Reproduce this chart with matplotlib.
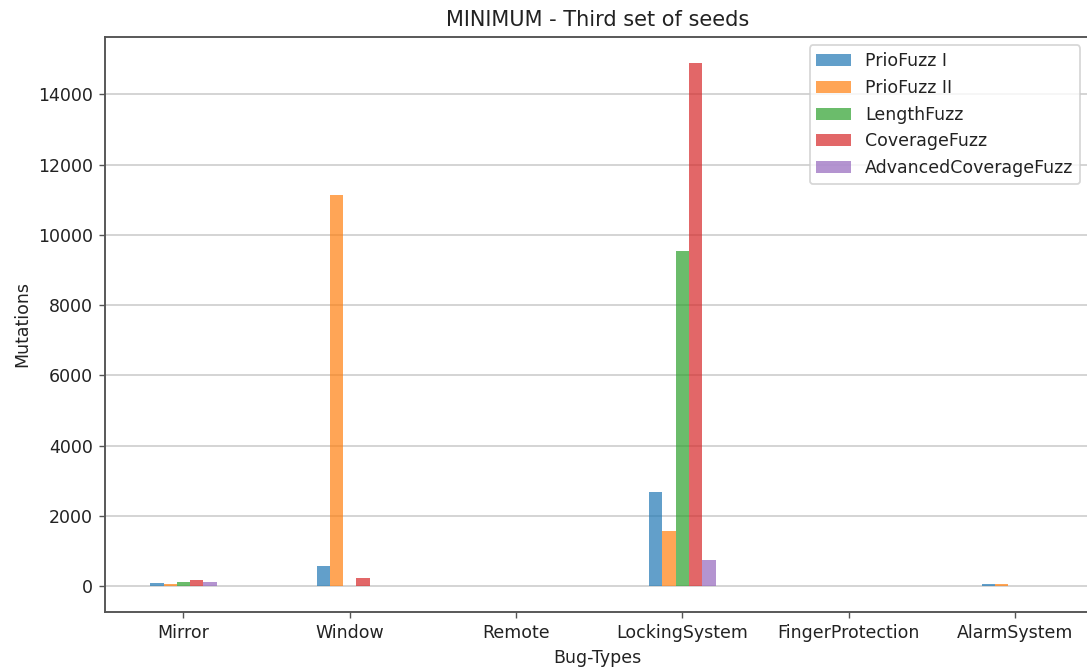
import matplotlib
matplotlib.use("Agg")
import matplotlib.pyplot as plt
import numpy as np

categories = ["Mirror", "Window", "Remote", "LockingSystem", "FingerProtection", "AlarmSystem"]
series_names = ["PrioFuzz I", "PrioFuzz II", "LengthFuzz", "CoverageFuzz", "AdvancedCoverageFuzz"]
prio_fuzz_1 = [75, 575, 0, 2670, 0, 65]
prio_fuzz_2 = [65, 11150, 0, 1580, 0, 60]
length_fuzz = [120, 0, 0, 9550, 0, 0]
coverage_fuzz = [170, 220, 0, 14900, 0, 0]
adv_coverage_fuzz = [115, 0, 0, 730, 0, 0]
series_values = [prio_fuzz_1, prio_fuzz_2, length_fuzz, coverage_fuzz, adv_coverage_fuzz]

colors = ["#1f77b4", "#ff7f0e", "#2ca02c", "#d62728", "#9467bd"]

plt.rcParams["text.color"] = "#222222"
plt.rcParams["axes.labelcolor"] = "#222222"
plt.rcParams["xtick.labelcolor"] = "#222222"
plt.rcParams["ytick.labelcolor"] = "#222222"

dpi = 125
fig = plt.figure(figsize=(1087 / dpi, 669 / dpi), dpi=dpi)
ax = fig.add_axes([0.0969, 0.0848, 0.905, 0.8603])

x = np.arange(len(categories))
bar_w = 0.08
n = len(series_names)
for i, (name, vals, c) in enumerate(zip(series_names, series_values, colors)):
    offs = (i - (n - 1) / 2) * bar_w
    ax.bar(x + offs, vals, width=bar_w, color=c, alpha=0.7, label=name, zorder=2)

ax.set_xticks(x)
ax.set_xticklabels(categories, rotation=0)
ax.set_xlim(-0.47, 5.445)
ax.set_ylim(-745, 15645)
ax.yaxis.grid(True, color="#cfcfcf", linewidth=1.0, zorder=1)
ax.set_axisbelow(True)
for sp in ax.spines.values():
    sp.set_color("#555555")
    sp.set_linewidth(1.1)
ax.tick_params(colors="#555555", labelcolor="#222222")
ax.set_xlabel("Bug-Types")
ax.set_ylabel("Mutations")
ax.set_title("MINIMUM - Third set of seeds")
ax.legend(loc="upper right")

fig.savefig("out.png", dpi=dpi)
